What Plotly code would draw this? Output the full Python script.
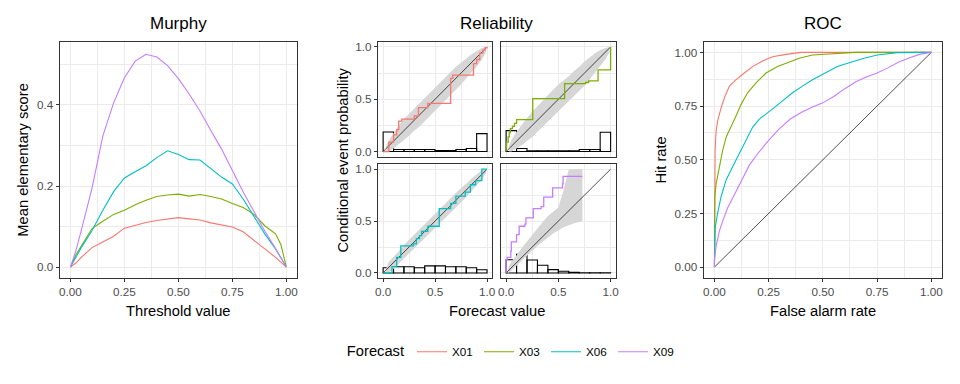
import plotly.graph_objects as go

W, H = 960, 384
COLORS = {"X01": "#F8766D", "X03": "#7CAE00", "X06": "#00BFC4", "X09": "#C77CFF"}
FORECASTS = ["X01", "X03", "X06", "X09"]

# ---------------- Murphy data ----------------
murphy_threshold = [0, 0.025, 0.05, 0.10, 0.15, 0.20, 0.25, 0.30, 0.35, 0.40, 0.45, 0.50,
                    0.55, 0.60, 0.65, 0.70, 0.75, 0.80, 0.85, 0.90, 0.95, 0.975, 1.0]
murphy_X01 = [0, 0.010, 0.024, 0.048, 0.062, 0.076, 0.096, 0.103, 0.110, 0.115, 0.119, 0.122,
              0.119, 0.116, 0.109, 0.104, 0.099, 0.087, 0.065, 0.045, 0.024, 0.012, 0]
murphy_X03 = [0, 0.030, 0.052, 0.095, 0.113, 0.130, 0.140, 0.154, 0.165, 0.174, 0.178, 0.180,
              0.175, 0.179, 0.174, 0.168, 0.157, 0.147, 0.130, 0.102, 0.082, 0.055, 0]
murphy_X06 = [0, 0.025, 0.048, 0.090, 0.140, 0.186, 0.220, 0.235, 0.250, 0.270, 0.287, 0.278,
              0.265, 0.264, 0.243, 0.222, 0.205, 0.168, 0.125, 0.082, 0.045, 0.024, 0]
murphy_X09 = [0, 0.040, 0.090, 0.195, 0.323, 0.405, 0.467, 0.508, 0.525, 0.518, 0.497, 0.465,
              0.427, 0.385, 0.337, 0.291, 0.238, 0.185, 0.137, 0.089, 0.046, 0.022, 0]
murphy = {"X01": murphy_X01, "X03": murphy_X03, "X06": murphy_X06, "X09": murphy_X09}

# ---------------- Reliability data ----------------
hist_bins = [0.05, 0.15, 0.25, 0.35, 0.45, 0.55, 0.65, 0.75, 0.85, 0.95]
hist_X01 = [0.187, 0.019, 0.019, 0.019, 0.019, 0.010, 0.010, 0.019, 0.029, 0.171]
hist_X03 = [0.200, 0.029, 0.006, 0.006, 0.006, 0.006, 0.006, 0.019, 0.019, 0.184]
hist_X06 = [0.050, 0.060, 0.060, 0.050, 0.068, 0.068, 0.060, 0.060, 0.050, 0.030]
hist_X09 = [0.127, 0.180, 0.125, 0.074, 0.032, 0.016, 0.006, 0.002, 0.002, 0.002]

cep_x_X01 = [0, 0.055, 0.10, 0.13, 0.15, 0.18, 0.30, 0.34, 0.43, 0.65, 0.67, 0.87, 0.90, 0.93, 0.96, 0.98, 1.0]
cep_y_X01 = [0, 0.09, 0.16, 0.21, 0.29, 0.31, 0.34, 0.42, 0.46, 0.70, 0.73, 0.84, 0.88, 0.94, 0.97, 0.99, 1.0]
cep_x_X03 = [0, 0, 0.005, 0.02, 0.03, 0.04, 0.06, 0.08, 0.10, 0.255, 0.56, 0.76, 0.79, 0.88, 1.0, 1.0]
cep_y_X03 = [0, 0.04, 0.09, 0.14, 0.18, 0.22, 0.24, 0.27, 0.305, 0.505, 0.65, 0.66, 0.676, 0.781, 0.781, 1.0]
cep_x_X06 = [0, 0.085, 0.13, 0.17, 0.29, 0.32, 0.35, 0.37, 0.43, 0.54, 0.65, 0.70, 0.79, 0.84, 0.89, 0.95, 1.0]
cep_y_X06 = [0, 0.06, 0.15, 0.26, 0.28, 0.33, 0.36, 0.40, 0.45, 0.62, 0.67, 0.74, 0.78, 0.85, 0.89, 1.0, 1.0]
cep_x_X09 = [0, 0, 0.01, 0.045, 0.05, 0.10, 0.125, 0.18, 0.19, 0.26, 0.335, 0.36, 0.445, 0.54, 0.545, 0.73]
cep_y_X09 = [0, 0.13, 0.15, 0.21, 0.30, 0.37, 0.45, 0.47, 0.53, 0.62, 0.64, 0.73, 0.82, 0.86, 0.93, 0.93]

band_u = [0.03, 0.05, 0.10, 0.15, 0.20, 0.25, 0.30, 0.35, 0.40, 0.45, 0.50, 0.55, 0.60, 0.65,
          0.70, 0.75, 0.80, 0.85, 0.90, 0.95, 0.99]
band_lo_X01 = [0.0, 0.0, 0.03, 0.07, 0.11, 0.15, 0.20, 0.24, 0.29, 0.34, 0.39, 0.44, 0.49, 0.54,
               0.59, 0.64, 0.70, 0.75, 0.81, 0.88, 0.95]
band_hi_X01 = [0.06, 0.10, 0.18, 0.25, 0.31, 0.37, 0.42, 0.47, 0.52, 0.57, 0.62, 0.67, 0.71, 0.76,
               0.81, 0.85, 0.89, 0.93, 0.96, 0.99, 1.0]
band_lo_X03 = [0.0, 0.0, 0.03, 0.06, 0.10, 0.14, 0.19, 0.24, 0.29, 0.34, 0.38, 0.43, 0.48, 0.53,
               0.58, 0.63, 0.69, 0.75, 0.81, 0.88, 0.95]
band_hi_X03 = [0.06, 0.11, 0.19, 0.26, 0.32, 0.38, 0.44, 0.49, 0.54, 0.59, 0.64, 0.68, 0.72, 0.77,
               0.81, 0.86, 0.90, 0.94, 0.97, 0.99, 1.0]
band_lo_X06 = [0.0, 0.0, 0.04, 0.09, 0.13, 0.18, 0.23, 0.28, 0.33, 0.38, 0.43, 0.48, 0.53, 0.58,
               0.63, 0.68, 0.73, 0.79, 0.84, 0.90, 0.96]
band_hi_X06 = [0.04, 0.10, 0.16, 0.21, 0.27, 0.32, 0.37, 0.42, 0.47, 0.52, 0.57, 0.62, 0.67, 0.72,
               0.77, 0.82, 0.86, 0.91, 0.95, 0.99, 1.0]
band_u_X09 = [0.02, 0.05, 0.10, 0.15, 0.20, 0.25, 0.30, 0.35, 0.40, 0.45, 0.50, 0.55, 0.60, 0.65, 0.70, 0.73]
band_lo_X09 = [0.0, 0.02, 0.07, 0.12, 0.17, 0.21, 0.26, 0.30, 0.34, 0.38, 0.41, 0.44, 0.46, 0.48, 0.49, 0.50]
band_hi_X09 = [0.05, 0.11, 0.17, 0.24, 0.31, 0.37, 0.43, 0.49, 0.55, 0.59, 0.63, 0.80, 1.0, 1.0, 1.0, 1.0]

reliab = {
    "X01": dict(hist=hist_X01, cx=cep_x_X01, cy=cep_y_X01, bu=band_u, lo=band_lo_X01, hi=band_hi_X01),
    "X03": dict(hist=hist_X03, cx=cep_x_X03, cy=cep_y_X03, bu=band_u, lo=band_lo_X03, hi=band_hi_X03),
    "X06": dict(hist=hist_X06, cx=cep_x_X06, cy=cep_y_X06, bu=band_u, lo=band_lo_X06, hi=band_hi_X06),
    "X09": dict(hist=hist_X09, cx=cep_x_X09, cy=cep_y_X09, bu=band_u_X09, lo=band_lo_X09, hi=band_hi_X09),
}

# ---------------- ROC data ----------------
roc_far_X01 = [0, 0, 0.003, 0.008, 0.015, 0.031, 0.046, 0.069, 0.10, 0.138, 0.176, 0.222, 0.268, 0.33, 0.40, 1.0]
roc_hit_X01 = [0, 0.33, 0.544, 0.636, 0.682, 0.743, 0.789, 0.843, 0.873, 0.904, 0.934, 0.960, 0.980, 0.991, 1.0, 1.0]
roc_far_X03 = [0, 0, 0.002, 0.008, 0.023, 0.038, 0.054, 0.077, 0.10, 0.123, 0.153, 0.192, 0.238, 0.291,
               0.345, 0.391, 0.452, 0.55, 0.65, 1.0]
roc_hit_X03 = [0, 0.09, 0.33, 0.39, 0.467, 0.544, 0.605, 0.659, 0.705, 0.758, 0.812, 0.858, 0.904, 0.934,
               0.957, 0.973, 0.988, 0.995, 1.0, 1.0]
roc_far_X06 = [0, 0.002, 0.004, 0.008, 0.015, 0.031, 0.054, 0.084, 0.115, 0.146, 0.176, 0.207, 0.238, 0.276,
               0.314, 0.36, 0.406, 0.452, 0.50, 0.567, 0.629, 0.69, 0.751, 0.843, 1.0]
roc_hit_X06 = [0, 0.09, 0.19, 0.21, 0.253, 0.329, 0.406, 0.467, 0.528, 0.59, 0.651, 0.689, 0.712, 0.743,
               0.774, 0.812, 0.843, 0.873, 0.898, 0.934, 0.954, 0.973, 0.988, 0.999, 1.0]
roc_far_X09 = [0, 0, 0.008, 0.023, 0.038, 0.061, 0.092, 0.123, 0.161, 0.199, 0.25, 0.30, 0.35, 0.40, 0.45,
               0.50, 0.55, 0.60, 0.65, 0.70, 0.75, 0.80, 0.85, 0.90, 0.95, 1.0]
roc_hit_X09 = [0, 0.035, 0.10, 0.169, 0.214, 0.276, 0.337, 0.398, 0.475, 0.528, 0.59, 0.645, 0.69, 0.72, 0.745,
               0.765, 0.795, 0.83, 0.862, 0.885, 0.904, 0.928, 0.955, 0.975, 0.992, 1.0]
roc = {"X01": (roc_far_X01, roc_hit_X01), "X03": (roc_far_X03, roc_hit_X03),
       "X06": (roc_far_X06, roc_hit_X06), "X09": (roc_far_X09, roc_hit_X09)}

# ---------------- layout geometry (px) ----------------
def dom_x(a, b):
    return [a / W, b / W]

def dom_y(top, bottom):
    return [1 - bottom / H, 1 - top / H]

FONT = "Liberation Sans, Arial, sans-serif"
TICKFONT = dict(family=FONT, size=11.7, color="#4D4D4D")
GRID = "#EBEBEB"

fig = go.Figure()

def set_axis(name, domain, anchor, rng, tickvals, fmt, minor_dtick, showlabels=True, showticks=True):
    ax = dict(domain=domain, anchor=anchor, range=rng, tickvals=tickvals, tickformat=fmt,
              showgrid=True, gridcolor=GRID, gridwidth=1.1, zeroline=False,
              showline=True, mirror=True, linecolor="#333333", linewidth=1.1,
              ticks="outside" if showticks else "", ticklen=3, tickwidth=1.1, tickcolor="#333333",
              showticklabels=showlabels, tickfont=TICKFONT,
              minor=dict(dtick=minor_dtick, tick0=0, showgrid=True, gridcolor=GRID, gridwidth=0.6, ticks=""))
    fig.layout[name] = ax

# Murphy
set_axis("xaxis", dom_x(57, 296), "y", [-0.05, 1.05], [0, 0.25, 0.5, 0.75, 1.0], ".2f", 0.125)
set_axis("yaxis", dom_y(40, 278), "x", [-0.0265, 0.556], [0, 0.2, 0.4], ".1f", 0.1)
for f in FORECASTS:
    fig.add_trace(go.Scatter(x=murphy_threshold, y=murphy[f], mode="lines", name=f,
                             line=dict(color=COLORS[f], width=1.1), legendgroup=f,
                             xaxis="x", yaxis="y"))

# Reliability facets
facets = {
    "X01": (2, (377.3, 492.3), (40, 156), False, True),
    "X03": (3, (501, 616.7), (40, 156), False, False),
    "X06": (4, (377.3, 492.3), (163.3, 278.3), True, True),
    "X09": (5, (501, 616.7), (163.3, 278.3), True, False),
}
for f in FORECASTS:
    k, xs, ys, xlab, ylab = facets[f]
    set_axis(f"xaxis{k}", dom_x(*xs), f"y{k}", [-0.05, 1.05], [0, 0.5, 1.0], ".1f", 0.25,
             showlabels=xlab, showticks=xlab)
    set_axis(f"yaxis{k}", dom_y(*ys), f"x{k}", [-0.05, 1.05], [0, 0.5, 1.0], ".1f", 0.25,
             showlabels=ylab, showticks=ylab)
    d = reliab[f]
    xa, ya = f"x{k}", f"y{k}"
    # consistency band as a closed polygon: lower edge forward, upper edge backward
    fig.add_trace(go.Scatter(x=d["bu"] + d["bu"][::-1], y=d["lo"] + d["hi"][::-1], mode="lines",
                             line=dict(width=0), fill="toself", fillcolor="#D6D6D6",
                             showlegend=False, hoverinfo="skip", xaxis=xa, yaxis=ya))
    fig.add_trace(go.Bar(x=hist_bins, y=d["hist"], width=0.1, marker=dict(color="rgba(0,0,0,0)",
                         line=dict(color="black", width=1.1)), showlegend=False, xaxis=xa, yaxis=ya))
    fig.add_trace(go.Scatter(x=[0, 1], y=[0, 1], mode="lines", line=dict(color="black", width=0.7),
                             showlegend=False, xaxis=xa, yaxis=ya))
    fig.add_trace(go.Scatter(x=d["cx"], y=d["cy"], mode="lines",
                             line=dict(color=COLORS[f], width=1.3, shape="hv"),
                             showlegend=False, legendgroup=f, xaxis=xa, yaxis=ya))

# ROC
set_axis("xaxis6", dom_x(705, 945), "y6", [-0.05, 1.05], [0, 0.25, 0.5, 0.75, 1.0], ".2f", 0.125)
set_axis("yaxis6", dom_y(40, 278), "x6", [-0.05, 1.05], [0, 0.25, 0.5, 0.75, 1.0], ".2f", 0.125)
fig.add_trace(go.Scatter(x=[0, 1], y=[0, 1], mode="lines", line=dict(color="black", width=0.7),
                         showlegend=False, xaxis="x6", yaxis="y6"))
for f in FORECASTS:
    fx, fy = roc[f]
    fig.add_trace(go.Scatter(x=fx, y=fy, mode="lines", line=dict(color=COLORS[f], width=1.1),
                             showlegend=False, legendgroup=f, xaxis="x6", yaxis="y6"))

# Text annotations (titles / axis titles)
def ann(text, x, y, size, angle=0, color="black"):
    fig.add_annotation(text=text, x=x / W, y=1 - y / H, xref="paper", yref="paper",
                       showarrow=False, textangle=angle, xanchor="center", yanchor="middle",
                       font=dict(family=FONT, size=size, color=color))

ann("Murphy", 176.5, 22, 17)
ann("Reliability", 497, 22, 17)
ann("ROC", 825, 22, 17)
ann("Threshold value", 176.5, 311, 14.7)
ann("Forecast value", 497, 311, 14.7)
ann("False alarm rate", 825, 311, 14.7)
ann("Mean elementary score", 20, 159, 14.7, angle=-90)
ann("Conditional event probability", 342, 159, 14.7, angle=-90)
ann("Hit rate", 662, 159, 14.7, angle=-90)

fig.update_layout(
    width=W, height=H, margin=dict(l=0, r=0, t=0, b=0),
    paper_bgcolor="white", plot_bgcolor="white",
    barmode="overlay",
    showlegend=True,
    legend=dict(orientation="h", x=344 / W, xanchor="left", y=1 - 353 / H, yanchor="middle",
                title=dict(text="Forecast", font=dict(family=FONT, size=14.7, color="black")),
                font=dict(family=FONT, size=11.7, color="black"), itemwidth=30,
                entrywidth=22, entrywidthmode="pixels", bgcolor="rgba(0,0,0,0)"),
    font=dict(family=FONT),
)

fig.write_html("out.html", config={"displayModeBar": False},
               post_script="document.body.style.margin='0';document.body.style.overflow='hidden';")
